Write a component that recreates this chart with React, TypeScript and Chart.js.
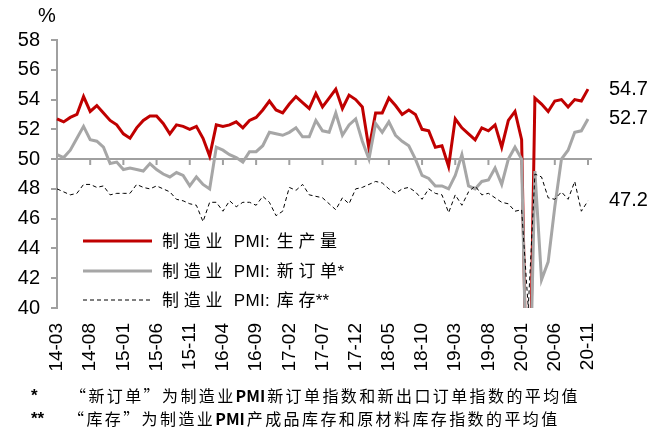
import React, { useEffect, useRef } from "react";
import { Chart, registerables } from "chart.js";

Chart.register(...registerables);

const months = [
  "14-03", "14-04", "14-05", "14-06", "14-07", "14-08", "14-09", "14-10", "14-11", "14-12",
  "15-01", "15-02", "15-03", "15-04", "15-05", "15-06", "15-07", "15-08", "15-09", "15-10", "15-11", "15-12",
  "16-01", "16-02", "16-03", "16-04", "16-05", "16-06", "16-07", "16-08", "16-09", "16-10", "16-11", "16-12",
  "17-01", "17-02", "17-03", "17-04", "17-05", "17-06", "17-07", "17-08", "17-09", "17-10", "17-11", "17-12",
  "18-01", "18-02", "18-03", "18-04", "18-05", "18-06", "18-07", "18-08", "18-09", "18-10", "18-11", "18-12",
  "19-01", "19-02", "19-03", "19-04", "19-05", "19-06", "19-07", "19-08", "19-09", "19-10", "19-11", "19-12",
  "20-01", "20-02", "20-03", "20-04", "20-05", "20-06", "20-07", "20-08", "20-09", "20-10", "20-11",
];

const production = [
  52.7, 52.5, 52.8, 53.0, 54.2, 53.2, 53.6, 53.1, 52.6, 52.3,
  51.7, 51.4, 52.1, 52.6, 52.9, 52.9, 52.4, 51.7, 52.3, 52.2, 52.0, 52.2,
  51.4, 50.2, 52.3, 52.2, 52.3, 52.5, 52.1, 52.6, 52.8, 53.3, 53.9, 53.3,
  53.1, 53.7, 54.2, 53.8, 53.4, 54.4, 53.5, 54.1, 54.7, 53.4, 54.3, 54.0,
  53.5, 50.7, 53.1, 53.1, 54.1, 53.6, 53.0, 53.3, 53.0, 52.0, 51.9, 50.8,
  50.9, 49.5, 52.7, 52.1, 51.7, 51.3, 52.1, 51.9, 52.3, 50.8, 52.6, 53.2,
  51.3, 27.8, 54.1, 53.7, 53.2, 53.9, 54.0, 53.5, 54.0, 53.9, 54.7,
];

const newOrders = [
  50.3, 50.1, 50.6, 51.4, 52.2, 51.3, 51.2, 50.8, 49.7, 49.8,
  49.3, 49.4, 49.3, 49.2, 49.7, 49.3, 49.0, 48.8, 49.1, 48.9, 48.2, 48.8,
  48.3, 48.0, 50.8, 50.6, 50.3, 50.1, 49.8, 50.5, 50.5, 50.9, 51.8, 51.7,
  51.6, 51.8, 52.1, 51.5, 51.5, 52.6, 51.9, 51.8, 53.1, 51.6, 52.3, 52.7,
  51.2, 50.0, 52.4, 51.8, 52.5, 51.6, 51.2, 50.9, 50.0, 48.9, 48.7, 48.2,
  48.2, 48.0, 48.9, 50.3, 48.2, 48.0, 48.5, 48.6, 49.4, 48.3, 50.0, 50.8,
  50.0, 29.0, 49.2, 41.9, 43.1, 46.8, 50.0, 50.6, 51.8, 51.9, 52.7,
];

const inventory = [
  48.0, 47.8, 47.6, 47.7, 48.3, 48.3, 48.1, 48.2, 47.6, 47.7,
  47.7, 47.7, 48.3, 48.1, 48.0, 48.2, 48.0, 47.8, 47.3, 47.2, 47.0, 46.9,
  45.8, 47.1, 47.1, 46.5, 47.2, 46.8, 47.1, 47.1, 46.9, 47.5, 47.1, 46.2,
  46.5, 48.1, 47.9, 48.3, 47.6, 47.5, 47.4, 47.0, 46.6, 47.4, 47.0, 48.0,
  48.1, 48.3, 48.5, 48.4, 48.0, 47.7, 48.0, 48.1, 47.8, 47.3, 48.0, 47.7,
  47.6, 46.4, 47.6, 46.9, 47.8, 48.2, 47.6, 47.7, 47.4, 47.1, 47.0, 46.5,
  46.6, 40.0, 49.0, 48.8, 47.4, 47.3, 47.8, 47.3, 48.5, 46.5, 47.2,
];

const seriesNames = ["制造业 PMI: 生产量", "制造业 PMI: 新订单*", "制造业 PMI: 库存**"];

const yMin = 40;
const yMax = 58;
const yStep = 2;
const xLabelEvery = 5;
const baseValue = 50;
const unitLabel = "%";

const footnotes = [
  ["*", "“新订单”为制造业PMI新订单指数和新出口订单指数的平均值"],
  ["**", "“库存”为制造业PMI产成品库存和原材料库存指数的平均值"],
];

const AXIS = "#a0a0a0";
const RED = "#c00000";
const GRAY = "#a6a6a6";
const FONT = '"Liberation Sans", Arial, "Noto Sans CJK SC", sans-serif';

const isWide = (ch: string) => /[\u3000-\u9fff\uff00-\uffef\u2018-\u201f]/.test(ch);

function drawSpaced(ctx: CanvasRenderingContext2D, text: string, x: number, y: number) {
  const chars = Array.from(text);
  let cx = x;
  chars.forEach((ch, i) => {
    ctx.fillText(ch, cx, y);
    const next = chars[i + 1];
    const gap = isWide(ch) && next && next !== "*" ? 4.7 : ch === " " ? 2 : 0.3;
    cx += ctx.measureText(ch).width + gap;
  });
}

const decorPlugin = {
  id: "decor",
  beforeDatasetsDraw(chart: any) {
    const { ctx, chartArea, scales } = chart;
    const x = scales.x;
    const y = scales.y;
    const y50 = y.getPixelForValue(baseValue);
    ctx.save();
    ctx.strokeStyle = AXIS;
    ctx.lineWidth = 2;
    ctx.beginPath();
    ctx.moveTo(chartArea.left, y50);
    ctx.lineTo(chartArea.right + 4, y50);
    ctx.stroke();
    ctx.beginPath();
    for (let i = xLabelEvery; i < months.length; i += xLabelEvery) {
      const px = x.getPixelForValue(i);
      ctx.moveTo(px, y50);
      ctx.lineTo(px, y50 + 6);
    }
    ctx.stroke();
    ctx.restore();
  },
  afterDatasetsDraw(chart: any) {
    const { ctx, chartArea, scales } = chart;
    const y = scales.y;
    ctx.save();
    ctx.fillStyle = "#000";
    ctx.font = `20px ${FONT}`;
    ctx.textAlign = "center";
    ctx.textBaseline = "middle";
    ctx.fillText(unitLabel, chartArea.left - 10, chartArea.top - 24);

    ctx.textAlign = "left";
    chart.data.datasets.forEach((ds: any) => {
      const v = ds.data[ds.data.length - 1];
      ctx.fillText(v.toFixed(1), chartArea.right + 21, y.getPixelForValue(v));
    });

    const rowOffsets = [67, 37, 8];
    ctx.font = `17px ${FONT}`;
    chart.data.datasets.forEach((ds: any, i: number) => {
      const ry = chartArea.bottom - rowOffsets[i];
      ctx.save();
      ctx.strokeStyle = ds.borderColor;
      ctx.lineWidth = ds.borderWidth;
      ctx.setLineDash(ds.borderDash || []);
      ctx.beginPath();
      ctx.moveTo(chartArea.left + 26, ry);
      ctx.lineTo(chartArea.left + 95, ry);
      ctx.stroke();
      ctx.restore();
      ctx.fillStyle = "#000";
      ctx.textBaseline = "middle";
      drawSpaced(ctx, ds.label, chartArea.left + 105, ry + 1);
    });
    ctx.restore();
  },
};

function NoteText({ text }: { text: string }) {
  const parts = text.split(/([A-Za-z]+)/);
  return (
    <>
      {parts.map((p, i) =>
        /^[A-Za-z]+$/.test(p) ? (
          <span key={i} style={{ letterSpacing: "0px", fontWeight: 700, marginRight: 2 }}>
            {p}
          </span>
        ) : (
          <span key={i}>{p}</span>
        )
      )}
    </>
  );
}

export default function App() {
  const ref = useRef<HTMLCanvasElement>(null);

  useEffect(() => {
    const canvas = ref.current;
    if (!canvas) return;
    const chart = new Chart(canvas, {
      type: "line",
      data: {
        labels: months,
        datasets: [
          {
            label: seriesNames[0],
            data: production,
            borderColor: RED,
            backgroundColor: RED,
            borderWidth: 3,
            pointRadius: 0,
            tension: 0,
            order: 3,
          },
          {
            label: seriesNames[1],
            data: newOrders,
            borderColor: GRAY,
            backgroundColor: GRAY,
            borderWidth: 3,
            pointRadius: 0,
            tension: 0,
            order: 2,
          },
          {
            label: seriesNames[2],
            data: inventory,
            borderColor: "#000000",
            backgroundColor: "#000000",
            borderWidth: 1,
            borderDash: [4, 3],
            pointRadius: 0,
            tension: 0,
            order: 1,
          },
        ],
      },
      options: {
        responsive: false,
        animation: false,
        events: [],
        layout: { padding: { top: 40, right: 79, left: 0, bottom: 0 } },
        plugins: {
          legend: { display: false },
          tooltip: { enabled: false },
          title: { display: false },
        },
        scales: {
          x: {
            type: "category",
            offset: false,
            grid: { display: false, drawTicks: false },
            border: { display: false },
            ticks: {
              autoSkip: false,
              maxRotation: 90,
              minRotation: 90,
              padding: 15,
              color: "#000",
              font: { size: 19, family: FONT },
              callback: (_v: any, index: number) =>
                index % xLabelEvery === 0 ? months[index] : "",
            },
            afterFit: (scale: any) => {
              scale.height = 122;
            },
          },
          y: {
            min: yMin,
            max: yMax,
            ticks: {
              stepSize: yStep,
              padding: 11,
              color: "#000",
              font: { size: 20, family: FONT },
            },
            grid: {
              drawOnChartArea: false,
              color: AXIS,
              lineWidth: 2,
              tickLength: 6,
            },
            border: { color: AXIS, width: 2 },
            afterFit: (scale: any) => {
              scale.width = 57;
            },
          },
        },
      },
      plugins: [decorPlugin],
    });
    return () => chart.destroy();
  }, []);

  const noteFont = '16px "Noto Sans CJK SC", sans-serif';
  return (
    <div
      style={{
        position: "absolute",
        left: 0,
        top: 0,
        width: 667,
        height: 430,
        background: "#fff",
        overflow: "hidden",
      }}
    >
      <canvas ref={ref} width={667} height={430} style={{ display: "block", width: 667, height: 430 }} />
      {footnotes.map((f, i) => (
        <React.Fragment key={i}>
          <div
            style={{
              position: "absolute",
              left: 31,
              top: 386 + i * 23,
              font: '700 17px "Liberation Sans", sans-serif',
              lineHeight: "20px",
              color: "#000",
              whiteSpace: "nowrap",
            }}
          >
            {f[0]}
          </div>
          <div
            style={{
              position: "absolute",
              left: 70 - i * 2,
              top: 385 + i * 23,
              font: noteFont,
              lineHeight: "20px",
              letterSpacing: "2.4px",
              color: "#000",
              whiteSpace: "nowrap",
            }}
          >
            <NoteText text={f[1]} />
          </div>
        </React.Fragment>
      ))}
    </div>
  );
}
